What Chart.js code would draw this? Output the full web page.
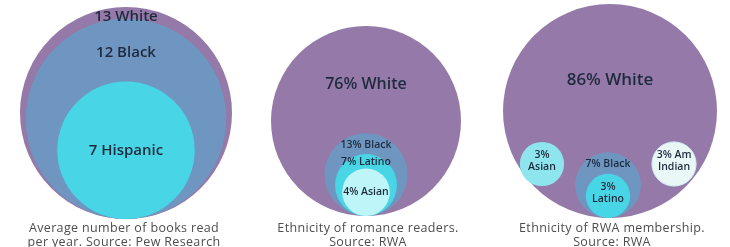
<!DOCTYPE html>
<html>
<head>
<meta charset="utf-8">
<script src="https://cdn.jsdelivr.net/npm/chart.js@4.4.1/dist/chart.umd.min.js"></script>
<style>
    html, body { margin: 0; padding: 0; background: #ffffff; }
    #wrap { position: relative; width: 730px; height: 247px; overflow: hidden; }
    #bubbles { position: absolute; left: 0; top: 0; }
    .caption {
        position: absolute;
        top: 221px;
        width: 240px;
        margin-left: -120px;
        text-align: center;
        font-family: "Open Sans", sans-serif;
        font-size: 12.5px;
        letter-spacing: 0.35px;
        line-height: 14px;
        color: #4d4d4d;
        white-space: nowrap;
    }
</style>
</head>
<body>
<div id="wrap">
    <canvas id="bubbles" width="730" height="247"></canvas>
</div>
<script>
(function () {
    "use strict";

    // ---------------------------------------------------------
    // DATA
    // ---------------------------------------------------------
    const booksGroups = ["White", "Black", "Hispanic"];
    const booksPerYear = [13, 12, 7];

    const readerGroups = ["White", "Black", "Latino", "Asian"];
    const readerShare = [76, 13, 7, 4];

    const memberGroups = ["White", "Asian", "Black", "Latino", "Am Indian"];
    const memberShare = [86, 3, 7, 3, 3];

    const captions = [
        ["Average number of books read", "per year. Source: Pew Research"],
        ["Ethnicity of romance readers.", "Source: RWA"],
        ["Ethnicity of RWA membership.", "Source: RWA"],
    ];

    // ---------------------------------------------------------
    // Panel layout + colours (index = group index)
    // ---------------------------------------------------------
    const PURPLE = "#9479a9";
    const STEEL = "#6f96c0";
    const CYAN = "#48d5e5";
    const TEXT = "#1f2b3d";

    const panels = [
        {
            groups: booksGroups, values: booksPerYear, unit: "",
            cx: 126, base: 219, rMax: 106, exp: 0.7,
            colors: [PURPLE, STEEL, CYAN],
            bigFont: 15, smallFont: 15, wrap: false,
        },
        {
            groups: readerGroups, values: readerShare, unit: "%",
            cx: 366, base: 216, rMax: 95, exp: 0.47,
            colors: [PURPLE, STEEL, CYAN, "#bdf5f8"],
            bigFont: 16, smallFont: 10.5, wrap: false,
        },
        {
            groups: memberGroups, values: memberShare, unit: "%",
            cx: 610, base: 218, rMax: 107, exp: 0.47,
            colors: [PURPLE, "#8fe5ee", STEEL, CYAN, "#eaf7f7"],
            bigFont: 17, smallFont: 10.5, wrap: true,
            // circles inside the big one, left to right; a sub-list is nested
            row: [[1], [2, 3], [4]], rowY: 164, gap: 11,
        },
    ];

    // ---------------------------------------------------------
    // Build bubbles (1 data unit = 1 px, y grows downward)
    // ---------------------------------------------------------
    const points = [];

    function labelText(p, i) {
        const txt = p.values[i] + p.unit + " " + p.groups[i];
        if (!p.wrap || i === 0 || p.values[i] > 5) return [txt];
        const cut = txt.lastIndexOf(" ");
        return [txt.slice(0, cut), txt.slice(cut + 1)];
    }

    // nested chain, all tangent at the bottom
    function nestedChain(p, idx, cx, base) {
        const rad = (v) => p.rMax * Math.pow(v / p.values[0], p.exp);
        const tops = idx.map((i) => base - 2 * rad(p.values[i]));
        idx.forEach((i, k) => {
            const r = rad(p.values[i]);
            const lines = labelText(p, i);
            const font = k === 0 && idx[0] === 0 ? p.bigFont : p.smallFont;
            let ly;
            if (k < idx.length - 1) {
                ly = Math.max(tops[k] + 0.55 * (tops[k + 1] - tops[k]), tops[k] + font * 0.65);
            } else {
                ly = base - r - (lines.length > 1 ? 3 : 0);
            }
            points.push({
                x: cx, y: base - r, r: r,
                color: p.colors[i], lines: lines, ly: ly, font: font,
            });
        });
    }

    panels.forEach((p) => {
        const rad = (v) => p.rMax * Math.pow(v / p.values[0], p.exp);

        if (!p.row) {
            nestedChain(p, p.groups.map((g, i) => i), p.cx, p.base);
            return;
        }

        // outer circle, label sits in the space above the row
        const R = rad(p.values[0]);
        const top = p.base - 2 * R;
        const widths = p.row.map((grp) => 2 * rad(p.values[grp[0]]));
        const total = widths.reduce((a, b) => a + b, 0) + p.gap * (p.row.length - 1);
        const rowTop = Math.min.apply(null, p.row.map((grp) =>
            grp.length > 1 ? p.base - 2 * rad(p.values[grp[0]]) : p.rowY - rad(p.values[grp[0]])
        ));

        points.push({
            x: p.cx, y: p.base - R, r: R, color: p.colors[0],
            lines: labelText(p, 0), ly: top + 0.55 * (rowTop - top), font: p.bigFont,
        });

        let left = p.cx - 2 - total / 2;
        p.row.forEach((grp, g) => {
            const cx = left + widths[g] / 2;
            if (grp.length > 1) {
                nestedChain(p, grp, cx, p.base);
            } else {
                const i = grp[0];
                const r = rad(p.values[i]);
                points.push({
                    x: cx, y: p.rowY, r: r, color: p.colors[i],
                    lines: labelText(p, i), ly: p.rowY - 3, font: p.smallFont,
                    edge: p.groups[i] === "Am Indian",
                });
            }
            left += widths[g] + p.gap;
        });
    });

    // ---------------------------------------------------------
    // Label plugin
    // ---------------------------------------------------------
    const bubbleLabels = {
        id: "bubbleLabels",
        afterDatasetsDraw(chart) {
            const ctx = chart.ctx;
            const xs = chart.scales.x;
            const ys = chart.scales.y;
            ctx.save();
            ctx.fillStyle = TEXT;
            ctx.textAlign = "center";
            ctx.textBaseline = "middle";
            points.forEach((pt) => {
                ctx.font = "600 " + pt.font + "px 'Open Sans', sans-serif";
                const lh = pt.font * 1.15;
                const x = xs.getPixelForValue(pt.x);
                const y0 = ys.getPixelForValue(pt.ly) - (lh * (pt.lines.length - 1)) / 2;
                pt.lines.forEach((ln, k) => ctx.fillText(ln, x, y0 + k * lh));
            });
            ctx.restore();
        },
    };

    // ---------------------------------------------------------
    // Chart
    // ---------------------------------------------------------
    new Chart(document.getElementById("bubbles"), {
        type: "bubble",
        data: {
            datasets: [
                {
                    data: points,
                    backgroundColor: points.map((p) => p.color),
                    borderColor: points.map((p) => (p.edge ? "#d3ebee" : p.color)),
                    borderWidth: points.map((p) => (p.edge ? 1 : 0)),
                    clip: false,
                },
            ],
        },
        options: {
            responsive: false,
            animation: false,
            events: [],
            layout: { padding: 0, autoPadding: false },
            plugins: {
                legend: { display: false },
                tooltip: { enabled: false },
            },
            scales: {
                x: { type: "linear", min: 0, max: 730, display: false },
                y: { type: "linear", min: 0, max: 247, reverse: true, display: false },
            },
        },
        plugins: [bubbleLabels],
    });

    // ---------------------------------------------------------
    // Captions
    // ---------------------------------------------------------
    const wrap = document.getElementById("wrap");
    captions.forEach((lines, i) => {
        const div = document.createElement("div");
        div.className = "caption";
        div.style.left = panels[i].cx + (i === 0 ? -2 : 2) + "px";
        lines.forEach((ln, k) => {
            if (k) div.appendChild(document.createElement("br"));
            div.appendChild(document.createTextNode(ln));
        });
        wrap.appendChild(div);
    });
})();
</script>
</body>
</html>
